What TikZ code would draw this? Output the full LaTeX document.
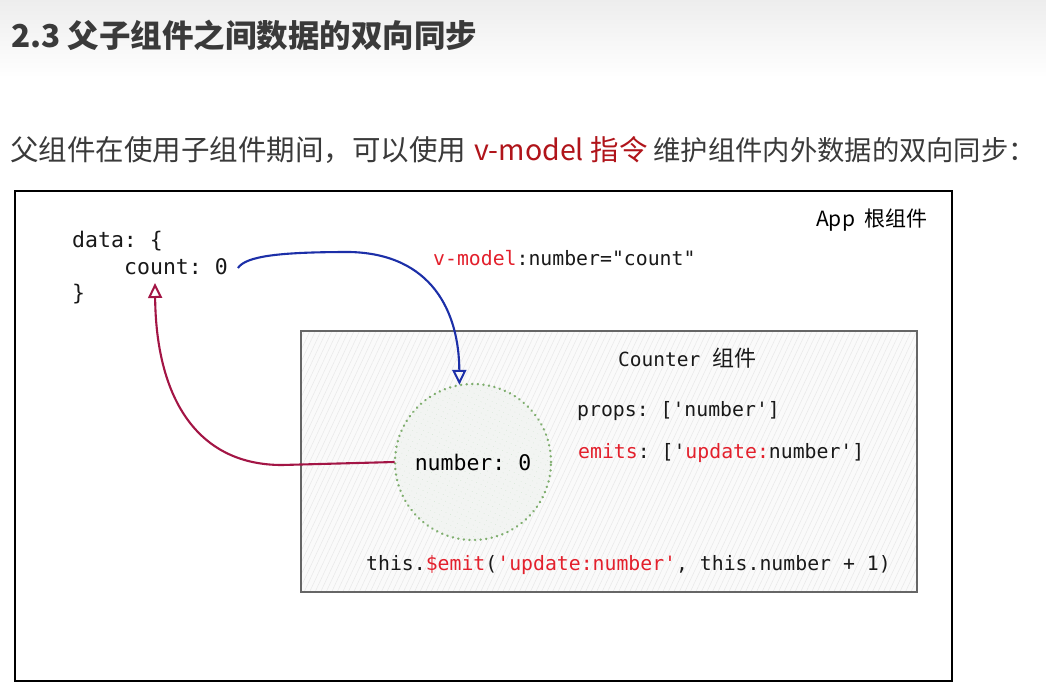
\documentclass[tikz,border=0pt]{standalone}
\usepackage{fontspec}
\setmonofont{DejaVu Sans Mono}
\newfontfamily\cjk{Noto Sans CJK SC}
\usepackage{tikz}
\usetikzlibrary{arrows.meta,patterns.meta}

\definecolor{codered}{HTML}{E3202C}
\definecolor{introred}{HTML}{B0141A}
\definecolor{vblue}{HTML}{1C2FA8}
\definecolor{vcrimson}{HTML}{A31545}
\definecolor{circgreen}{HTML}{7FAE6E}
\definecolor{textgray}{HTML}{3A3A3A}

\tikzset{
  code/.style={font=\ttfamily\fontsize{19.8}{24}\selectfont, text=black!90, inner sep=0pt, anchor=west},
  bigcode/.style={code, font=\ttfamily\fontsize{21.5}{26}\selectfont},
  cjktext/.style={font=\cjk\fontsize{21}{26}\selectfont, inner sep=0pt, anchor=west},
  introtext/.style={anchor=west, inner sep=0pt, text=textgray, font=\cjk\fontsize{28.5}{34}\selectfont},
  numcircle/.style={circle, minimum size=156pt, inner sep=0pt,
    draw=circgreen, line width=2.6pt, dash pattern=on 0.1pt off 5.5pt, line cap=round,
    preaction={fill=green!14!black!5},
    pattern={Lines[angle=65,distance=5pt,line width=0.6pt]}, pattern color=green!45!black!28,
    font=\ttfamily\fontsize{21.5}{26}\selectfont},
  link/.style={line width=2.1pt, -{Triangle[open, length=15pt, width=14pt, line width=2pt]}}
}

\begin{document}
\begin{tikzpicture}[x=1pt,y=-1pt]
    \useasboundingbox (0,0) rectangle (1046,688);
    \fill[white] (0,0) rectangle (1046,688);

    % Header
    \shade[top color=black!7, bottom color=white] (0,0) rectangle (1046,78);
    \node[anchor=west, inner sep=0pt, text=textgray, font=\cjk\bfseries\fontsize{31.5}{38}\selectfont]
        (title) at (11,35) {2.3 父子组件之间数据的双向同步};
    \node[introtext] (intro) at (10,150) {父组件在使用子组件期间，可以使用};
    \node[introtext, text=introred] (directive) at (474,150) {v-model\hspace{7pt}指令};
    \node[introtext, anchor=east, font=\cjk\fontsize{27.3}{34}\selectfont]
        (introend) at (1036,150) {维护组件内外数据的双向同步：};

    % App root component
    \draw[line width=2.6pt] (15,191) rectangle (952,681);
    \node[cjktext] (app) at (816,220) {App\hspace{9pt}根组件};
    \node[bigcode] (data) at (72,241) {data: \{};
    \node[bigcode] (count) at (124,267) {count: 0};
    \node[bigcode] (close) at (72,294) {\}};
    \node[code] (vmodel) at (433,258) {\textcolor{codered}{v-model}:number="count"};

    % Counter component
    \fill[black!2] (301,331) rectangle (917,592);
    \fill[pattern={Lines[angle=65,distance=5pt,line width=0.5pt]}, pattern color=black!9]
        (301,331) rectangle (917,592);
    \draw[draw=black!60, line width=2.4pt] (301,331) rectangle (917,592);
    \node[code, font=\ttfamily\fontsize{19.5}{24}\selectfont] (counter) at (618,358)
        {Counter\hspace{12pt}{\cjk\fontsize{22}{26}\selectfont 组件}};
    \node[numcircle] (num) at (473,462) {number: 0};
    \node[code] (props) at (577,411) {props: ['number']};
    \node[code] (emits) at (578,453)
        {\textcolor{codered}{emits}: ['\textcolor{codered}{update:}number']};
    \node[code] (emitcall) at (366,565)
        {this.\textcolor{codered}{\$emit}(\textcolor{codered}{'update:number'}, this.number + 1)};

    % v-model binding
    \draw[link, vblue] ([xshift=10pt,yshift=-1pt]count.east)
        .. controls +(8,-12) and (280,252) .. (350,252)
        .. controls (432,254) and (459,312) .. (num.100);

    % update:number event
    \coordinate (countin) at (155,283);
    \draw[link, vcrimson] (num.west) -- (282,465)
        .. controls (195,465) and (156,395) .. (countin);
\end{tikzpicture}
\end{document}
